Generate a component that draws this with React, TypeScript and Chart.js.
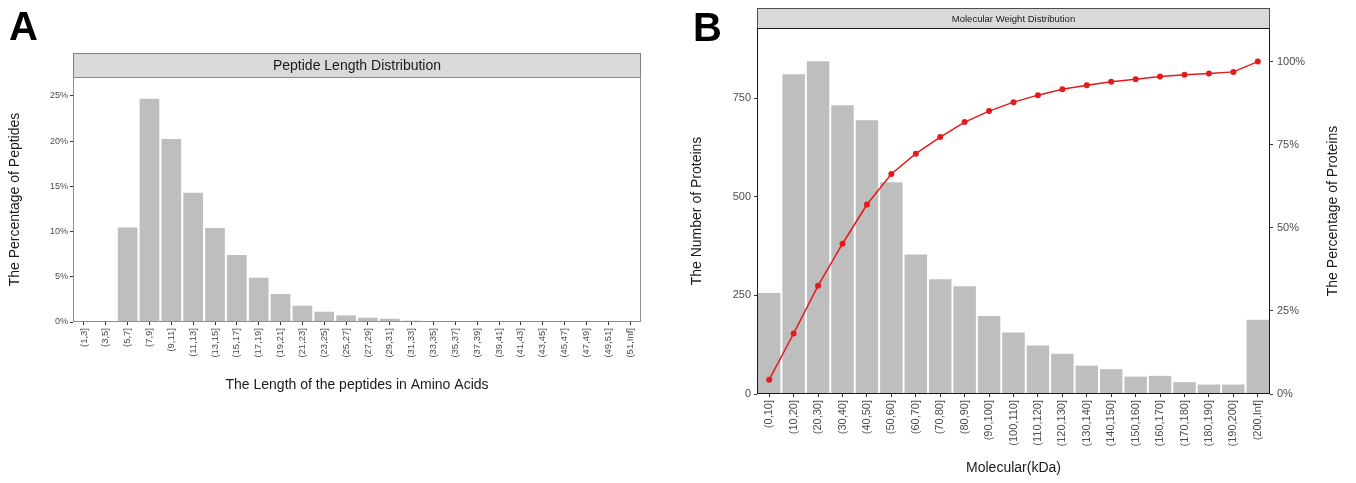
import React, { useEffect, useRef } from "react";
import { Chart, registerables } from "chart.js";

Chart.register(...registerables);

// ---------- Data: Panel A (peptide length) ----------
const peptideLabels = [
  "(1,3]", "(3,5]", "(5,7]", "(7,9]", "(9,11]", "(11,13]", "(13,15]", "(15,17]",
  "(17,19]", "(19,21]", "(21,23]", "(23,25]", "(25,27]", "(27,29]", "(29,31]",
  "(31,33]", "(33,35]", "(35,37]", "(37,39]", "(39,41]", "(41,43]", "(43,45]",
  "(45,47]", "(47,49]", "(49,51]", "(51,Inf]",
];
const peptidePercent = [
  0, 0, 10.45, 24.7, 20.25, 14.3, 10.4, 7.4, 4.9, 3.1, 1.8, 1.14, 0.73, 0.47, 0.36,
  0.15, 0.1, 0.05, 0.03, 0.02, 0.01, 0.01, 0.005, 0.005, 0.003, 0.01,
];
const peptideTicks = [0, 5, 10, 15, 20, 25];

// ---------- Data: Panel B (molecular weight) ----------
const mwLabels = [
  "(0,10]", "(10,20]", "(20,30]", "(30,40]", "(40,50]", "(50,60]", "(60,70]",
  "(70,80]", "(80,90]", "(90,100]", "(100,110]", "(110,120]", "(120,130]",
  "(130,140]", "(140,150]", "(150,160]", "(160,170]", "(170,180]", "(180,190]",
  "(190,200]", "(200,Inf]",
];
const mwCounts = [
  256, 811, 844, 732, 694, 537, 354, 291, 273, 198, 156, 123, 102, 72, 63, 44, 46,
  30, 24, 24, 188,
];
const mwCumPercent = [
  4.3, 18.2, 32.6, 45.2, 57.0, 66.2, 72.3, 77.3, 81.8, 85.1, 87.8, 89.9, 91.7,
  92.9, 93.9, 94.7, 95.5, 96.0, 96.4, 96.9, 100,
];
const mwCountTicks = [0, 250, 500, 750];
const mwPercentTicks = [0, 25, 50, 75, 100];

const FONT = "'Liberation Sans', Arial, Helvetica, sans-serif";
const BAR = "#bebebe";
const TICK_TXT = "#4d4d4d";
const RED = "#e41a1c";

type Deco = {
  letter: string;
  letterX: number;
  letterY: number;
  strip: string;
  stripH: number;
  stripFont: number;
  stripBorder: string;
  frameColor: string;
  rightTitle?: { text: string; x: number };
};

function decoPlugin(cfg: Deco) {
  return {
    id: "deco",
    afterDraw(chart: any) {
      const ctx = chart.ctx as CanvasRenderingContext2D;
      const a = chart.chartArea;
      const L = Math.round(a.left);
      const R = Math.round(a.right);
      const T = Math.round(a.top);
      const B = Math.round(a.bottom);
      ctx.save();
      // strip
      ctx.fillStyle = "#d9d9d9";
      ctx.fillRect(L, T - cfg.stripH, R - L, cfg.stripH);
      ctx.lineWidth = 1;
      ctx.strokeStyle = cfg.stripBorder;
      ctx.strokeRect(L + 0.5, T - cfg.stripH + 0.5, R - L - 1, cfg.stripH);
      ctx.fillStyle = "#1a1a1a";
      ctx.font = `${cfg.stripFont}px ${FONT}`;
      ctx.textAlign = "center";
      ctx.textBaseline = "middle";
      ctx.fillText(cfg.strip, (L + R) / 2, T - cfg.stripH / 2 + 1);
      // frame
      ctx.strokeStyle = cfg.frameColor;
      ctx.strokeRect(L + 0.5, T + 0.5, R - L - 1, B - T - 1);
      // letter
      ctx.fillStyle = "#000";
      ctx.font = `bold 40px ${FONT}`;
      ctx.textAlign = "left";
      ctx.textBaseline = "alphabetic";
      ctx.fillText(cfg.letter, cfg.letterX, cfg.letterY);
      // right title
      if (cfg.rightTitle) {
        ctx.translate(cfg.rightTitle.x, (T + B) / 2);
        ctx.rotate(-Math.PI / 2);
        ctx.font = `14px ${FONT}`;
        ctx.fillStyle = "#1a1a1a";
        ctx.textAlign = "center";
        ctx.textBaseline = "middle";
        ctx.fillText(cfg.rightTitle.text, 0, 0);
      }
      ctx.restore();
    },
  };
}

function PanelA() {
  const ref = useRef<HTMLCanvasElement>(null);
  useEffect(() => {
    if (!ref.current) return;
    const chart = new Chart(ref.current, {
      type: "bar",
      data: {
        labels: peptideLabels,
        datasets: [
          {
            data: peptidePercent,
            backgroundColor: BAR,
            borderWidth: 0,
            barPercentage: 0.9,
            categoryPercentage: 1,
          },
        ],
      },
      options: {
        responsive: false,
        animation: false,
        layout: { padding: { top: 77, right: 19, left: 0, bottom: 0 } },
        plugins: { legend: { display: false }, tooltip: { enabled: false } },
        scales: {
          x: {
            offset: true,
            afterFit: (s: any) => {
              s.height = 161;
            },
            grid: {
              display: true,
              offset: false,
              drawOnChartArea: false,
              drawTicks: true,
              tickLength: 3,
              tickColor: "#333333",
            },
            border: { display: false },
            ticks: {
              autoSkip: false,
              maxRotation: 90,
              minRotation: 90,
              padding: 3,
              color: TICK_TXT,
              font: { family: FONT, size: 9.5 },
            },
            title: {
              display: true,
              text: "The Length of the peptides in Amino Acids",
              color: "#1a1a1a",
              font: { family: FONT, size: 14 },
              padding: { top: 0, bottom: 89.6 },
            },
          },
          y: {
            min: 0,
            max: 27.1,
            afterFit: (s: any) => {
              s.width = 73;
            },
            afterBuildTicks: (s: any) => {
              s.ticks = peptideTicks.map((v) => ({ value: v }));
            },
            grid: {
              display: true,
              drawOnChartArea: false,
              drawTicks: true,
              tickLength: 3,
              tickColor: "#333333",
            },
            border: { display: false },
            ticks: {
              padding: 2,
              color: TICK_TXT,
              font: { family: FONT, size: 9 },
              callback: (v: any) => `${v}%`,
            },
            title: {
              display: true,
              text: "The Percentage of Peptides",
              color: "#1a1a1a",
              font: { family: FONT, size: 14 },
              padding: { top: 6.6, bottom: 0 },
            },
          },
        },
      },
      plugins: [
        decoPlugin({
          letter: "A",
          letterX: 9,
          letterY: 40,
          strip: "Peptide Length Distribution",
          stripH: 24,
          stripFont: 14,
          stripBorder: "#7f7f7f",
          frameColor: "#8c8c8c",
        }),
      ],
    } as any);
    return () => chart.destroy();
  }, []);
  return (
    <canvas
      ref={ref}
      width={660}
      height={483}
      style={{ position: "absolute", left: 0, top: 0, width: 660, height: 483 }}
    />
  );
}

function PanelB() {
  const ref = useRef<HTMLCanvasElement>(null);
  useEffect(() => {
    if (!ref.current) return;
    const chart = new Chart(ref.current, {
      type: "bar",
      data: {
        labels: mwLabels,
        datasets: [
          {
            type: "line",
            data: mwCumPercent,
            yAxisID: "y1",
            borderColor: RED,
            backgroundColor: RED,
            borderWidth: 1.5,
            pointRadius: 3,
            pointBackgroundColor: RED,
            pointBorderWidth: 0,
            tension: 0,
            order: 0,
          },
          {
            type: "bar",
            data: mwCounts,
            yAxisID: "y",
            backgroundColor: BAR,
            borderWidth: 0,
            barPercentage: 0.92,
            categoryPercentage: 1,
            order: 1,
          },
        ],
      },
      options: {
        responsive: false,
        animation: false,
        layout: { padding: { top: 28, right: 0, left: 0, bottom: 0 } },
        plugins: { legend: { display: false }, tooltip: { enabled: false } },
        scales: {
          x: {
            offset: true,
            afterFit: (s: any) => {
              s.height = 89;
            },
            grid: {
              display: true,
              offset: false,
              drawOnChartArea: false,
              drawTicks: true,
              tickLength: 3,
              tickColor: "#333333",
            },
            border: { display: false },
            ticks: {
              autoSkip: false,
              maxRotation: 90,
              minRotation: 90,
              padding: 3,
              color: TICK_TXT,
              font: { family: FONT, size: 11 },
            },
            title: {
              display: true,
              text: "Molecular(kDa)",
              color: "#1a1a1a",
              font: { family: FONT, size: 14 },
              padding: { top: 0, bottom: 6.6 },
            },
          },
          y: {
            position: "left",
            min: 0,
            max: 928,
            afterFit: (s: any) => {
              s.width = 97;
            },
            afterBuildTicks: (s: any) => {
              s.ticks = mwCountTicks.map((v) => ({ value: v }));
            },
            grid: {
              display: true,
              drawOnChartArea: false,
              drawTicks: true,
              tickLength: 3,
              tickColor: "#333333",
            },
            border: { display: false },
            ticks: {
              padding: 3,
              color: TICK_TXT,
              font: { family: FONT, size: 11 },
            },
            title: {
              display: true,
              text: "The Number of Proteins",
              color: "#1a1a1a",
              font: { family: FONT, size: 14 },
              padding: { top: 28.6, bottom: 0 },
            },
          },
          y1: {
            position: "right",
            min: 0,
            max: 110.1,
            afterFit: (s: any) => {
              s.width = 86;
            },
            afterBuildTicks: (s: any) => {
              s.ticks = mwPercentTicks.map((v) => ({ value: v }));
            },
            grid: {
              display: true,
              drawOnChartArea: false,
              drawTicks: true,
              tickLength: 3,
              tickColor: "#333333",
            },
            border: { display: false },
            ticks: {
              padding: 4,
              color: TICK_TXT,
              font: { family: FONT, size: 11 },
              callback: (v: any) => `${v}%`,
            },
          },
        },
      },
      plugins: [
        decoPlugin({
          letter: "B",
          letterX: 33,
          letterY: 41,
          strip: "Molecular Weight Distribution",
          stripH: 20,
          stripFont: 9.5,
          stripBorder: "#4d4d4d",
          frameColor: "#1a1a1a",
          rightTitle: { text: "The Percentage of Proteins", x: 673 },
        }),
      ],
    } as any);
    return () => chart.destroy();
  }, []);
  return (
    <canvas
      ref={ref}
      width={696}
      height={483}
      style={{ position: "absolute", left: 660, top: 0, width: 696, height: 483 }}
    />
  );
}

export default function App() {
  return (
    <div
      style={{
        position: "absolute",
        left: 0,
        top: 0,
        width: 1356,
        height: 483,
        background: "#ffffff",
        overflow: "hidden",
      }}
    >
      <PanelA />
      <PanelB />
    </div>
  );
}
